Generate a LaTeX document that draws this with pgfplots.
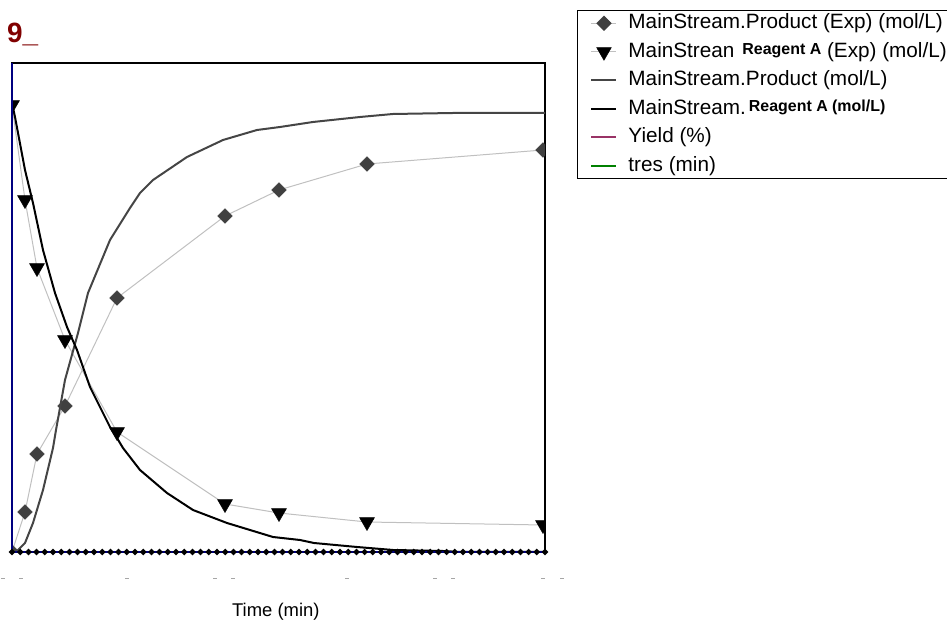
\documentclass[border=0pt]{standalone}
\usepackage{fontspec}
\setmainfont{Liberation Sans}
\usepackage{pgfplots}
\pgfplotsset{compat=1.18}
\definecolor{navyc}{HTML}{000080}
\definecolor{titlec}{HTML}{800000}
\definecolor{expc}{HTML}{C0C0C0}
\definecolor{diac}{HTML}{404040}
\definecolor{prodc}{HTML}{454545}
\definecolor{yieldc}{HTML}{993366}
\definecolor{tresc}{HTML}{008000}
\begin{document}
\begin{tikzpicture}
\path[use as bounding box] (0,0) rectangle (947bp,621bp);
\begin{axis}[
  at={(12bp,69bp)}, anchor=south west,
  scale only axis, width=533bp, height=488.5bp,
  xmin=0, xmax=533, ymin=0, ymax=488.5,
  xtick=\empty, ytick=\empty,
  axis line style={black, line width=2bp},
  clip marker paths=true,
  xlabel={Time (min)},
  xlabel style={at={(axis description cs:0.495,-0.123)}, anchor=center, font=\fontsize{18.5}{22}\selectfont},
  legend cell align=left,
  legend image code/.code={\draw[mark repeat=2,mark phase=2,#1] plot coordinates {(0bp,0bp) (12.5bp,0bp) (25bp,0bp)};},
  legend style={
    at={(rel axis cs:1.06,1.1095)}, anchor=north west,
    draw=black, line width=1bp,
    font=\fontsize{20.8}{24}\selectfont,
    inner xsep=13bp, inner ysep=3.5bp,
    row sep=10bp,
    /tikz/every odd column/.append style={column sep=11bp},
    nodes={inner sep=0bp, text height=14.5bp, text depth=4bp, anchor=west},
  },
]
\addplot[color=expc, line width=1bp, mark=square*, mark size=5.2bp, mark options={rotate=45, fill=diac, draw=diac, line width=0.5bp}]
coordinates {(0,0) (13,40) (25,98) (53,146) (105,254) (213,336) (267,362) (355,388) (531,402)};
\addlegendentry{MainStream.Product (Exp) (mol/L)}
\addplot[color=expc, line width=1bp, mark=triangle*, mark size=8.5bp, mark options={rotate=180, fill=black, draw=black, line width=0.5bp}]
coordinates {(0,447) (13,352) (25,284) (53,212) (105,120) (213,48) (267,39) (355,30) (531,27)};
\addlegendentry{MainStrean\hspace{8bp}\raisebox{3bp}{\fontsize{16}{18}\selectfont\bfseries Reagent A} (Exp) (mol/L)}
\addplot[color=prodc, line width=2bp]
coordinates {(0,0) (5,1) (13,9) (21,29) (31,62) (41,104) (44,122) (53,172) (66,219) (76,259) (98,312) (118,344) (128,359) (141,372) (175,395) (211,412) (245,422) (268,425) (301,430) (348,435) (381,438) (441,439) (533,439)};
\addlegendentry{MainStream.Product (mol/L)}
\addplot[color=black, line width=2bp]
coordinates {(0,449) (3,435) (13,382) (21,349) (31,302) (43,259) (55,225) (65,202) (78,165) (98,125) (105,114) (111,104) (128,82) (155,59) (181,42) (215,29) (261,15) (288,12) (302,9) (345,5) (381,2) (431,1) (448,0) (533,0)};
\addlegendentry{MainStream.\hspace{3bp}\raisebox{3bp}{\fontsize{16}{18}\selectfont\bfseries Reagent A (mol/L)}}
\addlegendimage{draw=yieldc, line width=1.6bp}
\addlegendentry{Yield (\%)}
\addlegendimage{draw=tresc, line width=1.6bp}
\addlegendentry{tres (min)}
\end{axis}
\begin{axis}[
  at={(12bp,69bp)}, anchor=south west,
  scale only axis, width=533bp, height=488.5bp,
  xmin=0, xmax=533, ymin=0, ymax=488.5,
  hide axis, clip=false,
]
\addplot[color=navyc, line width=2.2bp] coordinates {(0,0) (0,488.5)};
\addplot[color=navyc, line width=2.2bp, mark=*, mark size=1.8bp, mark options={fill=black, draw=black}]
coordinates {(0,0) (8.2,0) (16.4,0) (24.6,0) (32.8,0) (41,0) (49.2,0) (57.4,0) (65.6,0) (73.8,0) (82,0) (90.2,0) (98.4,0) (106.6,0) (114.8,0) (123,0) (131.2,0) (139.4,0) (147.6,0) (155.8,0) (164,0) (172.2,0) (180.4,0) (188.6,0) (196.8,0) (205,0) (213.2,0) (221.4,0) (229.6,0) (237.8,0) (246,0) (254.2,0) (262.4,0) (270.6,0) (278.8,0) (287,0) (295.2,0) (303.4,0) (311.6,0) (319.8,0) (328,0) (336.2,0) (344.4,0) (352.6,0) (360.8,0) (369,0) (377.2,0) (385.4,0) (393.6,0) (401.8,0) (410,0) (418.2,0) (426.4,0) (434.6,0) (442.8,0) (451,0) (459.2,0) (467.4,0) (475.6,0) (483.8,0) (492,0) (500.2,0) (508.4,0) (516.6,0) (524.8,0) (533,0)};
\pgfplotsinvokeforeach{-9,9,115,203,221,335,423,441,531,550}{
  \node[inner sep=0pt] at (axis cs:#1,-26) {\textcolor{gray!70}{\rule{4bp}{1bp}}};
}
\end{axis}
\node[anchor=base west, inner sep=0pt, text=titlec, font=\fontsize{28}{30}\selectfont\bfseries] at (7bp,578bp) {9\_};
\end{tikzpicture}
\end{document}
